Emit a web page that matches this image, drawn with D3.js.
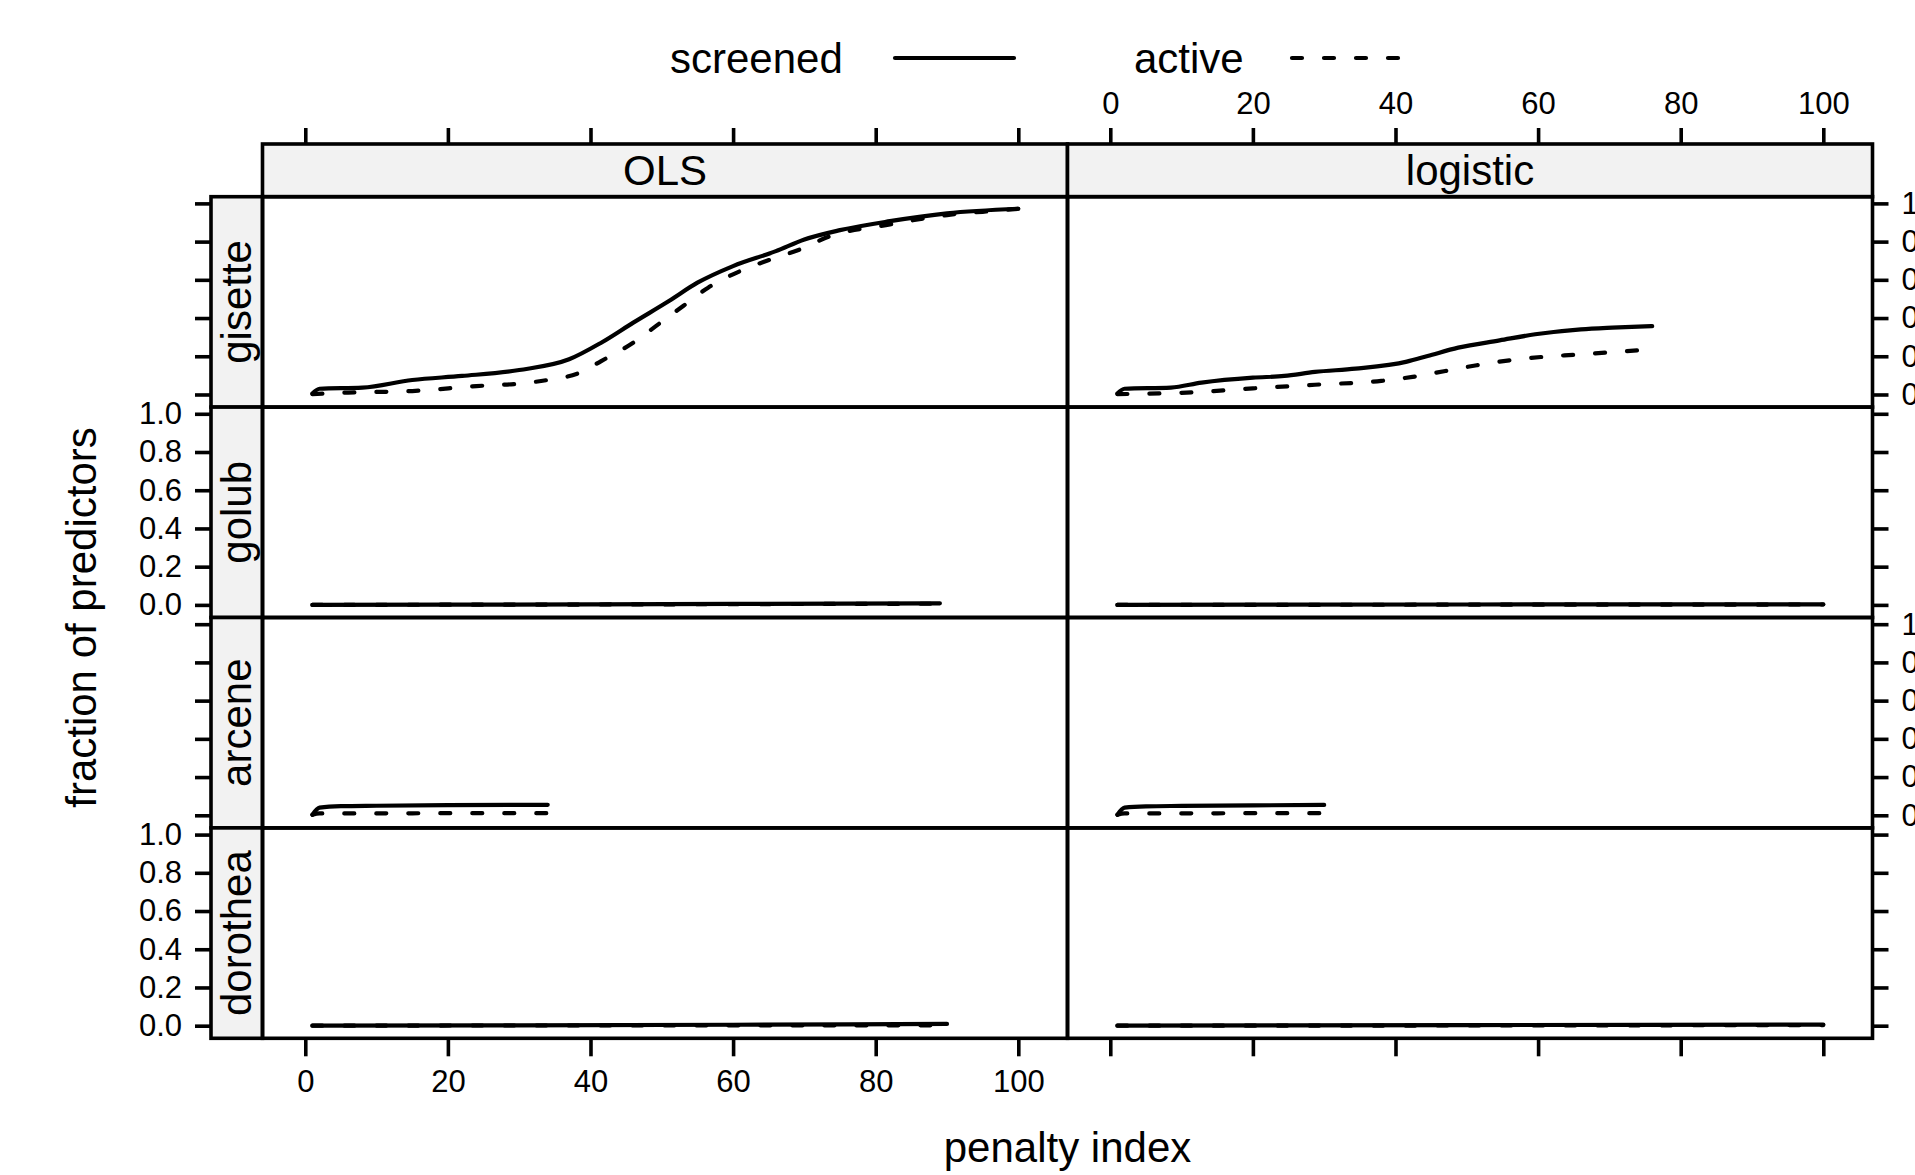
<!DOCTYPE html>
<html>
<head>
<meta charset="utf-8">
<script src="https://cdn.jsdelivr.net/npm/d3@7"></script>
<style>
  body { margin: 0; background: #fff; }
  text { font-family: "Liberation Sans", Arial, sans-serif; fill: #000; }
</style>
</head>
<body>
<div id="chart-area"></div>
<script>
// panel layout: rows = datasets, columns = methods
let datasets = ["gisette", "golub", "arcene", "dorothea"];
let methods = ["OLS", "logistic"];
let xTicks = [0, 20, 40, 60, 80, 100];
let yTicks = [0, 0.2, 0.4, 0.6, 0.8, 1.0];
let seriesNames = ["screened", "active"];

// penalty index values and fractions
let gisetteOLSx        = [1, 2, 8, 15, 22, 30, 37, 41.5, 46, 51, 55, 60, 66, 70, 75, 82, 90, 100];
let gisetteOLSscreened = [0.005, 0.03, 0.036, 0.076, 0.097, 0.128, 0.184, 0.271, 0.376, 0.489, 0.585, 0.672, 0.75, 0.811, 0.86, 0.907, 0.948, 0.972];
let gisetteOLSactiveX  = [1, 6, 15, 24, 30, 34, 38.5, 41.5, 46, 49.5, 53, 56.5, 61, 66, 70, 73, 82, 90, 98, 100];
let gisetteOLSactive   = [0.002, 0.01, 0.018, 0.044, 0.057, 0.076, 0.114, 0.175, 0.271, 0.367, 0.463, 0.559, 0.646, 0.716, 0.768, 0.82, 0.89, 0.939, 0.965, 0.972];

let gisetteLogx        = [1, 2, 8.5, 12.8, 20, 24.4, 28.7, 34.4, 41.6, 44.5, 48.8, 54.6, 59.6, 66, 70.4, 76];
let gisetteLogscreened = [0.005, 0.03, 0.036, 0.062, 0.088, 0.097, 0.118, 0.135, 0.172, 0.201, 0.245, 0.283, 0.315, 0.341, 0.35, 0.358];
let gisetteLogactiveX  = [1, 10.7, 20, 28.7, 38, 42.4, 47, 51.4, 56, 60.4, 66, 70.4, 75];
let gisetteLogactive   = [0.002, 0.01, 0.032, 0.051, 0.071, 0.092, 0.123, 0.153, 0.179, 0.196, 0.21, 0.222, 0.233];

let golubOLSx        = [1, 20, 40, 60, 89];
let golubOLSscreened = [0, 0.001, 0.003, 0.005, 0.008];
let golubOLSactive   = [0, 0.001, 0.002, 0.004, 0.006];
let golubLogx        = [1, 50, 100];
let golubLogscreened = [0, 0.002, 0.003];
let golubLogactive   = [0, 0.001, 0.002];

let arceneOLSx        = [1, 2, 5, 10, 20, 34];
let arceneOLSscreened = [0.003, 0.04, 0.048, 0.05, 0.053, 0.055];
let arceneOLSactive   = [0.003, 0.01, 0.01, 0.01, 0.011, 0.011];
let arceneLogx        = [1, 2, 5, 10, 20, 30];
let arceneLogscreened = [0.003, 0.04, 0.047, 0.049, 0.052, 0.054];
let arceneLogactive   = [0.003, 0.01, 0.01, 0.01, 0.011, 0.011];

let dorotheaOLSx        = [1, 30, 60, 90];
let dorotheaOLSscreened = [0, 0.002, 0.005, 0.009];
let dorotheaOLSactive   = [0, 0.001, 0.001, 0.002];
let dorotheaLogx        = [1, 50, 100];
let dorotheaLogscreened = [0, 0.003, 0.006];
let dorotheaLogactive   = [0, 0.001, 0.003];

let zip = (xs, ys) => xs.map((x, i) => ({ x: x, y: ys[i] }));

// panels[row][col] = { screened: [...], active: [...] }
let panels = [
	[
		{ screened: zip(gisetteOLSx, gisetteOLSscreened), active: zip(gisetteOLSactiveX, gisetteOLSactive) },
		{ screened: zip(gisetteLogx, gisetteLogscreened), active: zip(gisetteLogactiveX, gisetteLogactive) }
	],
	[
		{ screened: zip(golubOLSx, golubOLSscreened), active: zip(golubOLSx, golubOLSactive) },
		{ screened: zip(golubLogx, golubLogscreened), active: zip(golubLogx, golubLogactive) }
	],
	[
		{ screened: zip(arceneOLSx, arceneOLSscreened), active: zip(arceneOLSx, arceneOLSactive) },
		{ screened: zip(arceneLogx, arceneLogscreened), active: zip(arceneLogx, arceneLogactive) }
	],
	[
		{ screened: zip(dorotheaOLSx, dorotheaOLSscreened), active: zip(dorotheaOLSx, dorotheaOLSactive) },
		{ screened: zip(dorotheaLogx, dorotheaLogscreened), active: zip(dorotheaLogx, dorotheaLogactive) }
	]
];

let W = 1915, H = 1175;
let colLeft = 262.5, colW = 805;
let rowTop = 196.7, rowH = 210.4;
let stripTop = 144, stripLeft = 211;
let lw = 3.6;
let dataLw = 4.2;
let mainFont = 42, tickFont = 31;
let dash = "10 22";

let svg = d3.select("#chart-area").append("svg")
	.attr("width", W)
	.attr("height", H);

let x = methods.map((m, c) => d3.scaleLinear().domain([-6, 106.9]).range([colLeft + c * colW, colLeft + (c + 1) * colW]));
let y = datasets.map((d, r) => d3.scaleLinear().domain([-0.066, 1.035]).range([rowTop + (r + 1) * rowH, rowTop + r * rowH]));

let right = colLeft + 2 * colW;
let bottom = rowTop + 4 * rowH;

// top strips (method names)
methods.forEach(function(m, c) {
	svg.append("rect")
		.attr("x", colLeft + c * colW).attr("y", stripTop)
		.attr("width", colW).attr("height", rowTop - stripTop)
		.attr("fill", "#f2f2f2").attr("stroke", "#000").attr("stroke-width", lw);
	svg.append("text")
		.attr("x", colLeft + c * colW + colW / 2)
		.attr("y", 185)
		.attr("text-anchor", "middle")
		.attr("font-size", mainFont)
		.text(m);
});

// left strips (dataset names)
datasets.forEach(function(d, r) {
	svg.append("rect")
		.attr("x", stripLeft).attr("y", rowTop + r * rowH)
		.attr("width", colLeft - stripLeft).attr("height", rowH)
		.attr("fill", "#f2f2f2").attr("stroke", "#000").attr("stroke-width", lw);
	svg.append("text")
		.attr("transform", "translate(251," + (rowTop + r * rowH + rowH / 2) + ") rotate(-90)")
		.attr("text-anchor", "middle")
		.attr("font-size", mainFont)
		.text(d);
});

// panels
datasets.forEach(function(d, r) {
	methods.forEach(function(m, c) {
		svg.append("rect")
			.attr("x", colLeft + c * colW).attr("y", rowTop + r * rowH)
			.attr("width", colW).attr("height", rowH)
			.attr("fill", "none").attr("stroke", "#000").attr("stroke-width", lw);

		let p = panels[r][c];
		let pathGen = d3.line().curve(d3.curveMonotoneX).x(v => x[c](v.x)).y(v => y[r](v.y));

		svg.append("path")
			.attr("d", pathGen(p.active))
			.attr("fill", "none").attr("stroke", "#000")
			.attr("stroke-width", dataLw)
			.attr("stroke-linecap", "round").attr("stroke-linejoin", "round")
			.attr("stroke-dasharray", dash);

		svg.append("path")
			.attr("d", pathGen(p.screened))
			.attr("fill", "none").attr("stroke", "#000")
			.attr("stroke-width", dataLw)
			.attr("stroke-linecap", "round").attr("stroke-linejoin", "round");
	});
});

// axes, alternating labels like lattice
function styleAxis(g) {
	g.select(".domain").remove();
	g.selectAll(".tick line").attr("stroke", "#000").attr("stroke-width", lw);
	g.selectAll(".tick text")
		.attr("font-size", tickFont)
		.attr("font-family", "'Liberation Sans', Arial, sans-serif")
		.attr("fill", "#000");
}

let fmtY = d3.format(".1f");

datasets.forEach(function(d, r) {
	let labelLeft = (r % 2 == 1);
	svg.append("g")
		.attr("transform", "translate(" + stripLeft + ",0)")
		.call(d3.axisLeft(y[r]).tickValues(yTicks).tickSize(16).tickSizeOuter(0).tickPadding(13)
			.tickFormat(labelLeft ? fmtY : ""))
		.call(styleAxis);

	svg.append("g")
		.attr("transform", "translate(" + right + ",0)")
		.call(d3.axisRight(y[r]).tickValues(yTicks).tickSize(16).tickSizeOuter(0).tickPadding(13)
			.tickFormat(labelLeft ? "" : fmtY))
		.call(styleAxis);
});

methods.forEach(function(m, c) {
	svg.append("g")
		.attr("transform", "translate(0," + stripTop + ")")
		.call(d3.axisTop(x[c]).tickValues(xTicks).tickSize(16).tickSizeOuter(0).tickPadding(14)
			.tickFormat(c == 1 ? d3.format("d") : ""))
		.call(styleAxis);

	svg.append("g")
		.attr("transform", "translate(0," + bottom + ")")
		.call(d3.axisBottom(x[c]).tickValues(xTicks).tickSize(18).tickSizeOuter(0).tickPadding(14)
			.tickFormat(c == 0 ? d3.format("d") : ""))
		.call(styleAxis);
});

// axis titles
svg.append("text")
	.attr("x", (colLeft + right) / 2)
	.attr("y", 1162)
	.attr("text-anchor", "middle")
	.attr("font-size", mainFont)
	.text("penalty index");

svg.append("text")
	.attr("transform", "translate(96," + (rowTop + 2 * rowH) + ") rotate(-90)")
	.attr("text-anchor", "middle")
	.attr("font-size", mainFont)
	.text("fraction of predictors");

// legend
let legendTextX = [670, 1134];
let legendLineX = [[895, 1014], [1292, 1403]];
seriesNames.forEach(function(s, i) {
	svg.append("text")
		.attr("x", legendTextX[i])
		.attr("y", 73)
		.attr("font-size", mainFont)
		.text(s);
	svg.append("line")
		.attr("x1", legendLineX[i][0]).attr("x2", legendLineX[i][1])
		.attr("y1", 58).attr("y2", 58)
		.attr("stroke", "#000").attr("stroke-width", dataLw)
		.attr("stroke-linecap", "round")
		.attr("stroke-dasharray", i == 1 ? dash : null);
});
</script>
</body>
</html>
